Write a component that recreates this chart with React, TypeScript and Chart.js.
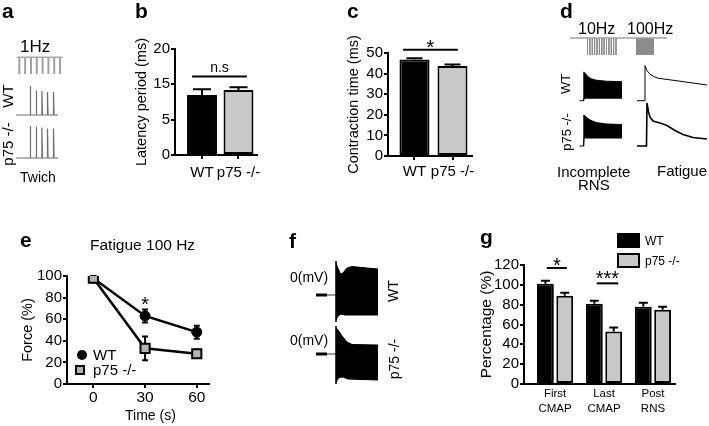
import React, { useEffect, useRef } from 'react';
import { Chart, registerables } from 'chart.js';

Chart.register(...registerables);
const FONT = "'Liberation Sans', Arial, Helvetica, sans-serif";
Chart.defaults.font.family = FONT;
Chart.defaults.color = '#000';

// ================= DATA =================
// panel a : 1 Hz twitch (time in s, force in a.u.)
const stim1HzTimes = [0, 1, 2, 3, 4, 5, 6, 7];
const stim1HzSpan = [-0.45, 7.45];
const twitchTimes = [1.84, 2.87, 3.85, 4.81, 5.84];
const twitchWT = [29, 24.5, 24, 23, 23];
const twitchP75 = [32, 31.5, 30.5, 29.5, 29.5];
const twitchSpan = [-0.55, 6.65];

// panel b : latency period
const groupLabels = ['WT', 'p75 -/-'];
const latencyMean = [8.5, 9.2];
const latencySem = [0.8, 0.4];
const latencyTickValues = [0, 5, 10, 15];
const latencyTickLabels = ['0', '5', '15', '20'];

// panel c : contraction time
const contractionMean = [46.8, 43.7];
const contractionSem = [0.6, 0.7];
const contractionTicks = [0, 10, 20, 30, 40, 50];

// panel d : incomplete RNS / fatigue traces (time in s, force in a.u.)
const stim10HzTimes = [1.95, 2.19, 2.43, 2.66, 2.9, 3.14, 3.38, 3.61, 3.85, 4.09, 4.33, 4.56, 4.8];
const stim100HzWindow = [6.8, 8.6];
const stimDSpan = [0.2, 9.9];
const rnsWTBaseline = [[0.35, 0], [0.75, 0]];
const rnsWTUpper = [[0.75, 0], [0.78, 28.7], [0.95, 27], [1.2, 24], [1.5, 22], [2.0, 20.5], [3.0, 19.5], [4.6, 19]];
const rnsWTLower = [[0.75, 0], [0.8, 2.5], [4.6, 2.5]];
const fatigueWT = [[0.7, 0], [1.45, 0], [1.5, 35], [1.7, 30], [2.0, 26.5], [2.4, 24], [2.8, 22.5], [3.3, 21.8], [5.0, 19.5], [7.7, 15.7]];
const rnsP75Baseline = [[0.35, 0], [0.75, 0]];
const rnsP75Upper = [[0.75, 0], [0.78, 31], [1.0, 29], [1.4, 26], [2.0, 23.5], [3.0, 22], [4.6, 21.5]];
const rnsP75Lower = [[0.75, 0], [0.8, 8], [4.6, 8]];
const fatigueP75 = [[0.7, 0], [1.65, 0], [1.7, 43], [1.85, 34], [2.0, 29], [2.3, 25], [3.0, 23], [3.7, 20.5], [4.5, 15.5], [5.3, 11.5], [6.3, 8.5], [7.7, 7]];

// panel e : fatigue 100 Hz
const fatigueTimes = [0, 30, 60];
const forceWT = [98, 63, 48];
const forceWTSem = [2, 6, 6];
const forceP75 = [98, 33, 28];
const forceP75Sem = [2, 11, 4];
const forceTicks = [0, 20, 40, 60, 80, 100];

// panel f : CMAP trains (time in ms, voltage in a.u.)
const zeroMarker = [4, 15];
const zeroLead = [15, 24];
const cmapWTUpper = [[24, 32], [25, 29], [28.5, 21], [31, 22], [35, 27], [40, 28.5], [55, 27], [66, 26]];
const cmapWTLower = [[24, -25], [26, -21], [29, -19], [33, -20], [66, -20]];
const cmapP75Upper = [[24, 26], [26, 24], [30, 18], [35, 12], [40, 9.5], [66, 9]];
const cmapP75Lower = [[24, -28], [27, -23.5], [31, -23], [36, -25], [66, -26]];

// panel g : percentage
const cmapCategories = [['First', 'CMAP'], ['Last', 'CMAP'], ['Post', 'RNS']];
const pctWT = [101, 81, 78];
const pctWTSem = [3, 3, 4];
const pctP75 = [89, 53, 75];
const pctP75Sem = [3, 4, 3];
const pctTicks = [0, 20, 40, 60, 80, 100, 120];

// ================= HELPERS =================
const pairs = (a: number[][]) => a.map(([x, y]) => ({ x, y }));

const baseOptions = (padding: any) => ({
  responsive: false,
  animation: false,
  devicePixelRatio: 1,
  events: [],
  layout: { padding },
  plugins: { legend: { display: false }, tooltip: { enabled: false }, title: { display: false } },
});

const lineDs = (data: any[], color = '#000', width = 1, extra: any = {}) => ({
  data,
  borderColor: color,
  borderWidth: width,
  pointRadius: 0,
  fill: false,
  spanGaps: false,
  ...extra,
});

function traceChart(xr: number[], yr: number[], datasets: any[]) {
  return {
    type: 'line',
    data: { datasets },
    options: {
      ...baseOptions({ left: 0, right: 0, top: 0, bottom: 0 }),
      scales: {
        x: { type: 'linear', min: xr[0], max: xr[1], display: false },
        y: { type: 'linear', min: yr[0], max: yr[1], display: false },
      },
      elements: { point: { radius: 0 }, line: { tension: 0 } },
    },
  };
}

const yAxis = (min: number, max: number, vals: number[], labels: string[], width: number, title: string, titleSize: number) => ({
  type: 'linear',
  min,
  max,
  offset: false,
  afterBuildTicks: (s: any) => { s.ticks = vals.map((v) => ({ value: v })); },
  afterFit: (s: any) => { s.width = width; },
  ticks: { autoSkip: false, padding: 1, font: { size: 15 }, color: '#000', callback: (_v: any, i: number) => labels[i] },
  grid: { drawOnChartArea: false, drawTicks: true, tickLength: 4, color: '#000', lineWidth: 2, offset: false },
  border: { display: true, color: '#000', width: 2 },
  title: { display: true, text: title, font: { size: titleSize }, color: '#000', padding: { top: 0, bottom: 0 } },
});

const xAxis = (min: number, max: number, vals: number[], labels: any[], height: number, fontSize: number, tickLen: number, pad: number, lh = 1.2) => ({
  type: 'linear',
  min,
  max,
  offset: false,
  afterBuildTicks: (s: any) => { s.ticks = vals.map((v) => ({ value: v })); },
  afterFit: (s: any) => { s.height = height; },
  ticks: { autoSkip: false, maxRotation: 0, minRotation: 0, padding: pad, font: { size: fontSize, lineHeight: lh }, color: '#000', callback: (_v: any, i: number) => labels[i] },
  grid: { display: tickLen > 0, offset: false, drawOnChartArea: false, drawTicks: tickLen > 0, tickLength: tickLen, color: '#000', lineWidth: 2 },
  border: { display: true, color: '#000', width: 2 },
});

function errorBars(id: string, sets: { ds: number; sem: number[]; cap: number; both?: boolean }[], before = false) {
  const draw = (chart: any) => {
    const ctx = chart.ctx;
    const ys = chart.scales.y;
    ctx.save();
    ctx.strokeStyle = '#000';
    ctx.lineWidth = 2;
    sets.forEach((s) => {
      const meta = chart.getDatasetMeta(s.ds);
      meta.data.forEach((el: any, i: number) => {
        const v = chart.data.datasets[s.ds].data[i].y;
        const x = el.x;
        const yTop = ys.getPixelForValue(v + s.sem[i]);
        const yMid = ys.getPixelForValue(v);
        const yBot = s.both ? ys.getPixelForValue(v - s.sem[i]) : yMid;
        ctx.beginPath();
        ctx.moveTo(x, yTop);
        ctx.lineTo(x, yBot);
        ctx.moveTo(x - s.cap / 2, yTop);
        ctx.lineTo(x + s.cap / 2, yTop);
        if (s.both) {
          ctx.moveTo(x - s.cap / 2, yBot);
          ctx.lineTo(x + s.cap / 2, yBot);
        }
        ctx.stroke();
      });
    });
    ctx.restore();
  };
  return before ? { id, beforeDatasetsDraw: draw } : { id, afterDatasetsDraw: draw };
}

function significance(id: string, marks: { from: number; to: number; y: number; label: string; size: number; lift: number }[]) {
  return {
    id,
    afterDatasetsDraw(chart: any) {
      const { ctx } = chart;
      const xs = chart.scales.x;
      const ys = chart.scales.y;
      ctx.save();
      ctx.strokeStyle = '#000';
      ctx.fillStyle = '#000';
      marks.forEach((m) => {
        const x1 = xs.getPixelForValue(m.from);
        const x2 = xs.getPixelForValue(m.to);
        const py = ys.getPixelForValue(m.y);
        if (m.from !== m.to) {
          ctx.lineWidth = 2;
          ctx.beginPath();
          ctx.moveTo(x1, py);
          ctx.lineTo(x2, py);
          ctx.stroke();
        }
        ctx.font = `${m.size}px ${FONT}`;
        ctx.textAlign = 'center';
        ctx.textBaseline = 'alphabetic';
        const mt = ctx.measureText(m.label);
        const cy = py - m.lift;
        const base = cy + (mt.actualBoundingBoxAscent - mt.actualBoundingBoxDescent) / 2;
        ctx.fillText(m.label, (x1 + x2) / 2, base);
      });
      ctx.restore();
    },
  };
}

function ChartCanvas({ left, top, width, height, make }: { left: number; top: number; width: number; height: number; make: () => any }) {
  const ref = useRef<HTMLCanvasElement>(null);
  useEffect(() => {
    const chart = new Chart(ref.current as HTMLCanvasElement, make());
    return () => chart.destroy();
  }, []);
  return <canvas ref={ref} width={width} height={height} style={{ position: 'absolute', left, top, width, height }} />;
}

function Txt({ x, b, s, bold, children }: { x: number; b: number; s: number; bold?: boolean; children: any }) {
  return (
    <div style={{ position: 'absolute', left: x, top: b - 0.85 * s, fontSize: s, lineHeight: `${s}px`, fontWeight: bold ? 700 : 400, fontFamily: FONT, whiteSpace: 'nowrap', color: '#000' }}>
      {children}
    </div>
  );
}

function VTxt({ cx, cy, s, children }: { cx: number; cy: number; s: number; children: any }) {
  return (
    <div style={{ position: 'absolute', left: cx, top: cy, transform: 'translate(-50%,-50%) rotate(-90deg)', fontSize: s, lineHeight: `${s}px`, fontFamily: FONT, whiteSpace: 'nowrap', color: '#000' }}>
      {children}
    </div>
  );
}

// ================= CHART CONFIGS =================
const twitchData = (peaks: number[]) => {
  const d: any[] = [{ x: twitchSpan[0], y: 0 }];
  twitchTimes.forEach((t, i) => {
    d.push({ x: t, y: 0 }, { x: t + 0.03, y: peaks[i] }, { x: t + 0.13, y: 0 });
  });
  d.push({ x: twitchSpan[1], y: 0 });
  return d;
};
const stimTicks = (times: number[]) => times.flatMap((t) => [{ x: t, y: 1 }, { x: t, y: 0 }, { x: t, y: null }]);

const stim1HzChart = () =>
  traceChart([-0.91, 8.02], [-0.12, 1.138], [
    lineDs(pairs([[stim1HzSpan[0], 1], [stim1HzSpan[1], 1]]), '#a8a8a8', 1.5),
    lineDs(stimTicks(stim1HzTimes), '#a0a0a0', 2),
  ]);
const twitchWTChart = () => traceChart([-0.91, 8.02], [-3, 35], [lineDs(twitchData(twitchWT), '#6e6e6e', 1.2)]);
const twitchP75Chart = () => traceChart([-0.91, 8.02], [-3, 35], [lineDs(twitchData(twitchP75), '#6e6e6e', 1.2)]);

const stimDChart = () =>
  traceChart([0, 10.2], [-0.118, 1.118], [
    lineDs(pairs([[stimDSpan[0], 1], [stimDSpan[1], 1]]), '#a0a0a0', 1.5),
    lineDs(stimTicks(stim10HzTimes), '#8c8c8c', 1),
    lineDs(pairs([[stim100HzWindow[0], 1], [stim100HzWindow[1], 1]]), '#8c8c8c', 0, { fill: { value: 0 }, backgroundColor: '#8c8c8c' }),
  ]);
const rnsWTChart = () =>
  traceChart([0, 5], [-3.3, 38.7], [
    lineDs(pairs(rnsWTBaseline), '#000', 1),
    lineDs(pairs(rnsWTUpper), '#000', 1, { fill: '+1', backgroundColor: '#000' }),
    lineDs(pairs(rnsWTLower), '#000', 1),
  ]);
const fatigueWTChart = () => traceChart([0, 7.9], [-3.3, 38.7], [lineDs(pairs(fatigueWT), '#000', 1)]);
const rnsP75Chart = () =>
  traceChart([0, 5], [-6, 40], [
    lineDs(pairs(rnsP75Baseline), '#000', 1),
    lineDs(pairs(rnsP75Upper), '#000', 1, { fill: '+1', backgroundColor: '#000' }),
    lineDs(pairs(rnsP75Lower), '#000', 1),
  ]);
const fatigueP75Chart = () => traceChart([0, 7.9], [-6, 48], [lineDs(pairs(fatigueP75), '#000', 1.6)]);

const cmapChart = (upper: number[][], lower: number[][], yr: number[]) => () =>
  traceChart([0, 72], yr, [
    lineDs(pairs([[zeroMarker[0], 0], [zeroMarker[1], 0]]), '#000', 3),
    lineDs(pairs([[zeroLead[0], 0], [zeroLead[1], 0]]), '#000', 0.8),
    lineDs(pairs([[upper[0][0], upper[0][1] + 2], [lower[0][0], lower[0][1] - 2]]), '#000', 0.8),
    lineDs(pairs(upper), '#000', 1, { fill: '+1', backgroundColor: '#000' }),
    lineDs(pairs(lower), '#000', 1),
  ]);

const latencyChart = () => ({
  type: 'bar',
  data: {
    datasets: [{
      data: latencyMean.map((m, i) => ({ x: i, y: m })),
      backgroundColor: ['#000', '#c8c8c8'],
      borderColor: '#000',
      borderWidth: 2,
      borderSkipped: false,
      categoryPercentage: 1,
      barPercentage: 0.82,
    }],
  },
  options: {
    ...baseOptions({ left: 0, top: 14, right: 14, bottom: 0 }),
    scales: {
      x: xAxis(-0.74, 1.507, [0, 1], groupLabels, 30, 15, 4, 5),
      y: yAxis(0, 15, latencyTickValues, latencyTickLabels, 42, 'Latency period (ms)', 14.5),
    },
  },
  plugins: [
    errorBars('eb', [{ ds: 0, sem: latencySem, cap: 18 }]),
    significance('sig', [{ from: -0.27, to: 1.23, y: 11.1, label: 'n.s', size: 14, lift: 9 }]),
  ],
});

const contractionChart = () => ({
  type: 'bar',
  data: {
    datasets: [{
      data: contractionMean.map((m, i) => ({ x: i, y: m })),
      backgroundColor: ['#000', '#c8c8c8'],
      borderColor: '#000',
      borderWidth: 2,
      borderSkipped: false,
      categoryPercentage: 1,
      barPercentage: 0.79,
    }],
  },
  options: {
    ...baseOptions({ left: 0, top: 28, right: 10, bottom: 0 }),
    scales: {
      x: xAxis(-0.697, 1.513, [0, 1], groupLabels, 29, 15, 4, 3),
      y: yAxis(0, 50, contractionTicks, contractionTicks.map(String), 43, 'Contraction time (ms)', 14.5),
    },
  },
  plugins: [
    errorBars('eb', [{ ds: 0, sem: contractionSem, cap: 16 }]),
    significance('sig', [{ from: -0.3, to: 1.14, y: 51.6, label: '*', size: 20, lift: 6 }]),
  ],
});

const fatigueChart = () => ({
  type: 'line',
  data: {
    datasets: [
      {
        label: 'WT',
        data: fatigueTimes.map((t, i) => ({ x: t, y: forceWT[i] })),
        borderColor: '#000',
        borderWidth: 2.5,
        pointStyle: 'circle',
        pointRadius: 5,
        pointBackgroundColor: '#000',
        pointBorderColor: '#000',
        pointBorderWidth: 1,
        order: 1,
      },
      {
        label: 'p75 -/-',
        data: fatigueTimes.map((t, i) => ({ x: t, y: forceP75[i] })),
        borderColor: '#000',
        borderWidth: 2.5,
        pointStyle: 'rect',
        pointRadius: 6.5,
        pointBackgroundColor: '#b4b4b4',
        pointBorderColor: '#000',
        pointBorderWidth: 2,
        order: 0,
      },
    ],
  },
  options: {
    ...baseOptions({ left: 0, top: 14, right: 5, bottom: 0 }),
    elements: { line: { tension: 0 } },
    scales: {
      x: xAxis(-15.3, 66.8, fatigueTimes, fatigueTimes.map(String), 42, 15.5, 4, 0),
      y: yAxis(0, 100, forceTicks, forceTicks.map(String), 48, 'Force (%)', 14.5),
    },
  },
  plugins: [
    errorBars('eb', [
      { ds: 0, sem: forceWTSem, cap: 6, both: true },
      { ds: 1, sem: forceP75Sem, cap: 6, both: true },
    ], true),
    significance('sig', [{ from: 30, to: 30, y: 77, label: '*', size: 20, lift: 0 }]),
  ],
});

const percentChart = () => ({
  type: 'bar',
  data: {
    datasets: [
      {
        label: 'WT',
        data: pctWT.map((m, i) => ({ x: i, y: m })),
        backgroundColor: '#000',
        borderColor: '#000',
        borderWidth: 2,
        borderSkipped: false,
        categoryPercentage: 0.79,
        barPercentage: 0.87,
      },
      {
        label: 'p75 -/-',
        data: pctP75.map((m, i) => ({ x: i, y: m })),
        backgroundColor: '#c8c8c8',
        borderColor: '#000',
        borderWidth: 2,
        borderSkipped: false,
        categoryPercentage: 0.79,
        barPercentage: 0.87,
      },
    ],
  },
  options: {
    ...baseOptions({ left: 0, top: 20, right: 4, bottom: 0 }),
    scales: {
      x: xAxis(-0.635, 2.45, [0, 1, 2], cmapCategories, 42, 11.5, 0, 3, 1.25),
      y: yAxis(0, 120, pctTicks, pctTicks.map(String), 47, 'Percentage (%)', 15.5),
    },
  },
  plugins: [
    errorBars('eb', [
      { ds: 0, sem: pctWTSem, cap: 9 },
      { ds: 1, sem: pctP75Sem, cap: 9 },
    ]),
    significance('sig', [
      { from: -0.17, to: 0.24, y: 117, label: '*', size: 20, lift: 6.3 },
      { from: 0.85, to: 1.29, y: 101.5, label: '***', size: 20, lift: 8 },
    ]),
  ],
});

// ================= APP =================
export default function App() {
  return (
    <div style={{ position: 'fixed', left: 0, top: 0, width: 709, height: 426, background: '#fff' }}>
      {/* texts (placed first, charts drawn above them) */}
      <Txt x={2} b={18} s={21} bold>a</Txt>
      <Txt x={20} b={52} s={17}>1Hz</Txt>
      <VTxt cx={7} cy={96} s={15}>WT</VTxt>
      <VTxt cx={7} cy={143.5} s={15}>p75 -/-</VTxt>
      <Txt x={20} b={182} s={14}>Twich</Txt>

      <Txt x={135} b={18} s={21} bold>b</Txt>
      <Txt x={347} b={18} s={21} bold>c</Txt>

      <Txt x={560} b={18} s={21} bold>d</Txt>
      <Txt x={578} b={35} s={16}>10Hz</Txt>
      <Txt x={627} b={35} s={16}>100Hz</Txt>
      <VTxt cx={565} cy={84} s={13}>WT</VTxt>
      <VTxt cx={566} cy={131.5} s={13}>p75 -/-</VTxt>
      <Txt x={557} b={177} s={15}>Incomplete</Txt>
      <Txt x={578} b={190} s={15}>RNS</Txt>
      <Txt x={657} b={176} s={15}>Fatigue</Txt>

      <Txt x={20} b={247} s={21} bold>e</Txt>
      <Txt x={90} b={250} s={15.5}>Fatigue 100 Hz</Txt>
      <Txt x={125} b={420} s={14}>Time (s)</Txt>
      <div style={{ position: 'absolute', left: 77, top: 350, width: 10, height: 10, borderRadius: '50%', background: '#000' }} />
      <Txt x={93} b={360} s={15}>WT</Txt>
      <div style={{ position: 'absolute', left: 75, top: 365, width: 10, height: 10, boxSizing: 'border-box', border: '2px solid #000', background: '#b4b4b4' }} />
      <Txt x={93} b={375} s={15}>p75 -/-</Txt>

      <Txt x={289} b={248} s={21} bold>f</Txt>
      <Txt x={290} b={282} s={14}>0(mV)</Txt>
      <Txt x={290} b={345} s={14}>0(mV)</Txt>
      <VTxt cx={392.5} cy={291} s={14}>WT</VTxt>
      <VTxt cx={393.5} cy={359} s={14}>p75 -/-</VTxt>

      <Txt x={480} b={244} s={21} bold>g</Txt>
      <div style={{ position: 'absolute', left: 617, top: 233, width: 23, height: 15, background: '#000' }} />
      <Txt x={645} b={245.5} s={12}>WT</Txt>
      <div style={{ position: 'absolute', left: 617, top: 253, width: 23, height: 15, boxSizing: 'border-box', border: '2px solid #000', background: '#c8c8c8' }} />
      <Txt x={645} b={265.5} s={12}>p75 -/-</Txt>

      {/* panel a */}
      <ChartCanvas left={14} top={55} width={52} height={21} make={stim1HzChart} />
      <ChartCanvas left={14} top={80} width={52} height={38} make={twitchWTChart} />
      <ChartCanvas left={14} top={123} width={52} height={38} make={twitchP75Chart} />
      {/* panel c */}
      <ChartCanvas left={345} top={25} width={137} height={160} make={contractionChart} />
      {/* panel d */}
      <ChartCanvas left={568} top={36} width={102} height={21} make={stimDChart} />
      <ChartCanvas left={576} top={62} width={50} height={42} make={rnsWTChart} />
      <ChartCanvas left={630} top={62} width={79} height={42} make={fatigueWTChart} />
      <ChartCanvas left={576} top={106} width={50} height={46} make={rnsP75Chart} />
      <ChartCanvas left={630} top={98} width={79} height={54} make={fatigueP75Chart} />
      {/* panel e */}
      <ChartCanvas left={19} top={262} width={198} height={164} make={fatigueChart} />
      {/* panel f */}
      <ChartCanvas left={312} top={258} width={72} height={66} make={cmapChart(cmapWTUpper, cmapWTLower, [-29, 37])} />
      <ChartCanvas left={312} top={322} width={72} height={68} make={cmapChart(cmapP75Upper, cmapP75Lower, [-36, 32])} />
      {/* panel g */}
      <ChartCanvas left={477} top={245} width={202} height={181} make={percentChart} />
      {/* panel b */}
      <ChartCanvas left={133} top={35} width={138} height={150} make={latencyChart} />
    </div>
  );
}
